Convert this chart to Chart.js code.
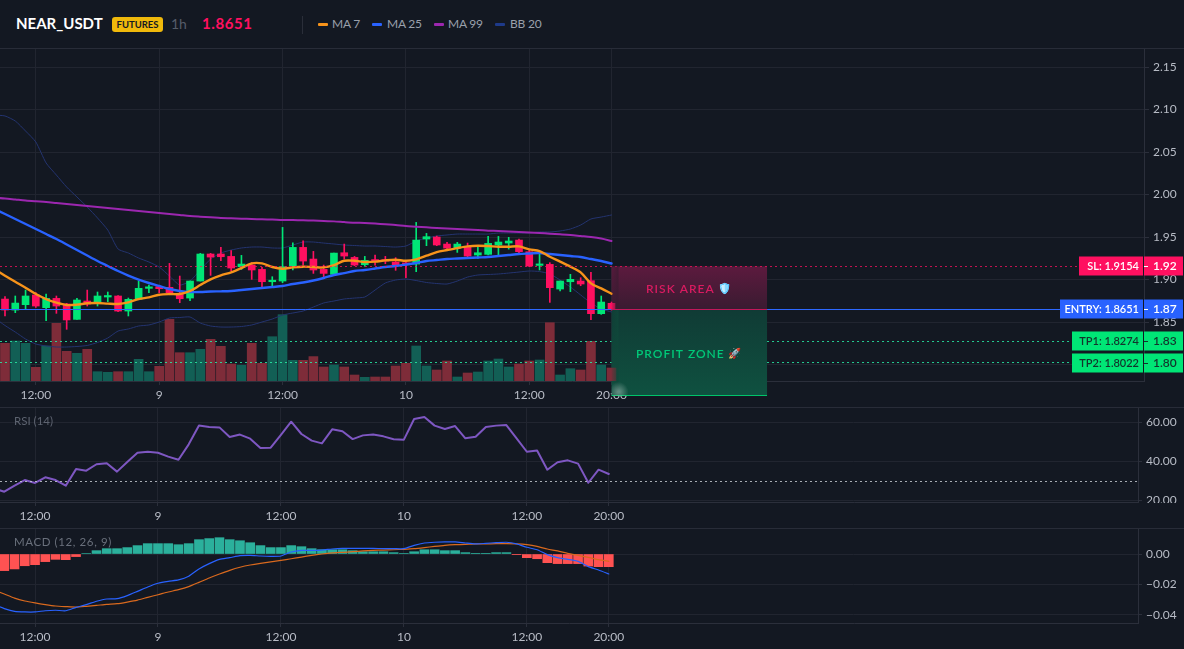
<!DOCTYPE html>
<html>
<head>
<meta charset="utf-8">
<title>NEAR_USDT</title>
<script src="https://cdn.jsdelivr.net/npm/chart.js@4"></script>
<style>
  html, body { margin: 0; padding: 0; background: #131822; overflow: hidden; }
  body { width: 1184px; height: 649px; position: relative; font-family: Lato, "Noto Sans", sans-serif; }
  canvas { position: absolute; left: 0; display: block; }
  .t { position: absolute; white-space: nowrap; line-height: 1; }
  .leg { top: 18px; font-size: 12px; letter-spacing: -.2px; color: #9aa0ac; }
  .rule { position: absolute; left: 0; width: 1184px; height: 1px; background: #282c38; }
  .sw { position: absolute; top: 23px; width: 10px; height: 3px; border-radius: 1px; }
</style>
</head>
<body>
<div class="t" style="left:16px;top:16px;font-size:15px;font-weight:700;color:#fff">NEAR_USDT</div>
<div class="t" style="left:112px;top:17px;width:51px;height:15px;line-height:15px;background:#f0b90b;border-radius:3px;color:#131822;font-size:9.5px;font-weight:700;text-align:center">FUTURES</div>
<div class="t" style="left:171px;top:17px;font-size:14px;color:#565c69">1h</div>
<div class="t" style="left:202px;top:16px;font-size:15px;font-weight:700;letter-spacing:.6px;color:#ff1060">1.8651</div>
<div style="position:absolute;left:302px;top:16px;width:1px;height:18px;background:#2a2e39"></div>
<div class="sw" style="left:318px;background:#f7931a"></div><div class="t leg" style="left:332px">MA 7</div>
<div class="sw" style="left:372px;background:#2962ff"></div><div class="t leg" style="left:387px">MA 25</div>
<div class="sw" style="left:434px;background:#9c27b0"></div><div class="t leg" style="left:448px">MA 99</div>
<div class="sw" style="left:495px;background:#1e3a8a"></div><div class="t leg" style="left:510px">BB 20</div>

<div class="rule" style="top:48px"></div>
<div class="rule" style="top:407px"></div>
<div class="rule" style="top:528px"></div>

<canvas id="main" width="1184" height="358" style="top:49px"></canvas>
<canvas id="rsi" width="1184" height="120" style="top:408px"></canvas>
<canvas id="macd" width="1184" height="120" style="top:529px"></canvas>

<div class="t" style="left:14px;top:415px;font-size:11.5px;color:#5d6370">RSI (14)</div>
<div class="t" style="left:14px;top:536px;font-size:11.5px;letter-spacing:.6px;color:#6a707c">MACD (12, 26, 9)</div>

<script>
// NEAR/USDT hourly candles, 8 Nov 09:00 to 10 Nov 20:00
const opens = [1.8770,1.8641,1.8704,1.8818,1.8669,1.8778,1.8712,1.8531,1.8747,1.8720,1.8794,1.8806,1.8629,1.8767,1.8896,1.8916,1.8908,1.8829,1.8782,1.8982,1.9300,1.9300,1.9272,1.9151,1.9170,1.9119,1.8974,1.8982,1.9159,1.9378,1.9241,1.9119,1.9061,1.9315,1.9260,1.9174,1.9233,1.9225,1.9206,1.9190,1.9182,1.9476,1.9500,1.9417,1.9370,1.9382,1.9288,1.9296,1.9406,1.9429,1.9464,1.9327,1.9166,1.9178,1.8888,1.8974,1.8982,1.8986,1.8598,1.8720];
const highs = [1.8798,1.8806,1.8876,1.8845,1.8829,1.8806,1.8720,1.8778,1.8876,1.8853,1.8853,1.8810,1.8782,1.8982,1.8935,1.8923,1.9190,1.9041,1.8982,1.9308,1.9308,1.9378,1.9339,1.9284,1.9198,1.9143,1.9033,1.9613,1.9433,1.9456,1.9331,1.9170,1.9311,1.9417,1.9272,1.9272,1.9288,1.9272,1.9257,1.9210,1.9672,1.9543,1.9511,1.9437,1.9437,1.9429,1.9382,1.9507,1.9507,1.9496,1.9476,1.9347,1.9296,1.9198,1.8982,1.9061,1.9021,1.9084,1.8806,1.8735];
const lows = [1.8571,1.8610,1.8649,1.8672,1.8516,1.8602,1.8414,1.8531,1.8688,1.8688,1.8739,1.8622,1.8571,1.8767,1.8845,1.8845,1.8821,1.8727,1.8751,1.8982,1.9049,1.9221,1.9104,1.9119,1.9002,1.8916,1.8908,1.8963,1.9112,1.9170,1.9072,1.9029,1.9045,1.9241,1.9162,1.9155,1.9170,1.9186,1.9108,1.9021,1.9092,1.9398,1.9398,1.9351,1.9319,1.9257,1.9249,1.9288,1.9280,1.9358,1.9308,1.9151,1.9112,1.8731,1.8865,1.8857,1.8927,1.8527,1.8590,1.8640];
const closes = [1.8641,1.8723,1.8806,1.8688,1.8778,1.8688,1.8524,1.8759,1.8712,1.8806,1.8802,1.8629,1.8767,1.8896,1.8908,1.8892,1.8845,1.8774,1.8982,1.9300,1.9264,1.9268,1.9135,1.9182,1.9112,1.8974,1.8986,1.9151,1.9378,1.9217,1.9112,1.9072,1.9311,1.9276,1.9170,1.9225,1.9217,1.9217,1.9174,1.9178,1.9464,1.9504,1.9406,1.9370,1.9417,1.9276,1.9315,1.9425,1.9441,1.9453,1.9327,1.9159,1.9178,1.8904,1.8982,1.9002,1.8947,1.8598,1.8735,1.8651];
const volumes = [37.7,40,37.7,13.7,35,57.7,29.7,27.7,31.7,9.3,8.7,9.3,9.3,21.7,9.3,14.7,61.7,28.3,28.3,31.7,41.7,34.7,17,15.7,37.7,17.7,44.3,66.3,20.7,20.7,24.4,14,16,14,6,3.7,4,4,15,17.7,35,15,11,20,4,8,9,20,22,14,17,20,21,58.3,6,12.3,11,39.7,16,13];

// Indicator series start one hour earlier so their lines run off the left edge
const ma7 = [1.9118,1.9045,1.8974,1.8904,1.8829,1.8770,1.8727,1.8700,1.8704,1.8720,1.8723,1.8716,1.8712,1.8731,1.8770,1.8790,1.8821,1.8829,1.8829,1.8865,1.8935,1.9002,1.9049,1.9084,1.9135,1.9190,1.9190,1.9147,1.9127,1.9143,1.9151,1.9147,1.9143,1.9170,1.9221,1.9221,1.9206,1.9210,1.9225,1.9233,1.9221,1.9237,1.9280,1.9323,1.9347,1.9370,1.9390,1.9398,1.9394,1.9386,1.9386,1.9390,1.9355,1.9335,1.9268,1.9210,1.9151,1.9084,1.8955,1.8896,1.8833];
const ma25 = [1.9829,1.9771,1.9712,1.9653,1.9594,1.9535,1.9476,1.9412,1.9347,1.9282,1.9218,1.9159,1.9100,1.9047,1.9000,1.8959,1.8924,1.8888,1.8865,1.8853,1.8853,1.8859,1.8861,1.8865,1.8876,1.8888,1.8900,1.8912,1.8924,1.8947,1.8965,1.8988,1.9018,1.9053,1.9076,1.9100,1.9112,1.9129,1.9147,1.9159,1.9176,1.9194,1.9218,1.9229,1.9241,1.9247,1.9253,1.9259,1.9265,1.9276,1.9288,1.9300,1.9306,1.9312,1.9300,1.9288,1.9276,1.9265,1.9241,1.9218,1.9188];
const ma99 = [1.9962,1.9953,1.9941,1.9929,1.9920,1.9912,1.9900,1.9888,1.9876,1.9865,1.9853,1.9841,1.9829,1.9818,1.9806,1.9794,1.9782,1.9771,1.9759,1.9747,1.9739,1.9732,1.9724,1.9720,1.9716,1.9712,1.9708,1.9705,1.9700,1.9699,1.9696,1.9693,1.9688,1.9684,1.9676,1.9669,1.9665,1.9658,1.9649,1.9641,1.9629,1.9622,1.9614,1.9606,1.9600,1.9594,1.9587,1.9582,1.9575,1.9571,1.9565,1.9559,1.9553,1.9547,1.9539,1.9532,1.9524,1.9512,1.9500,1.9482,1.9453];
const bbUpper = [2.0935,2.0924,2.0865,2.0747,2.0618,2.0371,2.0229,2.0088,1.9971,1.9853,1.9724,1.9582,1.9359,1.9312,1.9253,1.9206,1.9147,1.9041,1.8935,1.8982,1.9112,1.9241,1.9312,1.9347,1.9371,1.9382,1.9382,1.9371,1.9371,1.9406,1.9441,1.9441,1.9429,1.9418,1.9406,1.9400,1.9394,1.9394,1.9388,1.9382,1.9394,1.9453,1.9488,1.9512,1.9524,1.9535,1.9535,1.9535,1.9535,1.9547,1.9547,1.9547,1.9547,1.9559,1.9559,1.9571,1.9594,1.9641,1.9712,1.9735,1.9759];
const bbLower = [1.8547,1.8459,1.8382,1.8300,1.8241,1.8218,1.8206,1.8206,1.8212,1.8224,1.8259,1.8312,1.8394,1.8418,1.8453,1.8465,1.8500,1.8547,1.8553,1.8559,1.8488,1.8453,1.8441,1.8441,1.8447,1.8465,1.8500,1.8535,1.8582,1.8606,1.8629,1.8676,1.8724,1.8747,1.8771,1.8782,1.8794,1.8876,1.8959,1.8994,1.9006,1.8988,1.8965,1.8953,1.8947,1.8982,1.9029,1.9053,1.9059,1.9065,1.9076,1.9088,1.9100,1.9094,1.9065,1.8994,1.8912,1.8818,1.8724,1.8653,1.8618];

const rsi14 = [26.2,24.5,27.6,30.5,29.0,31.9,30.5,27.6,36.1,35.3,38.6,39.1,34.8,39.7,44.5,45.0,44.5,42.5,40.9,48.8,58.5,57.7,57.5,52.6,53.8,51.7,46.9,47.1,53.6,60.4,54.1,50.7,49.3,56.5,55.5,51.5,53.4,53.8,52.9,51.4,51.2,61.8,62.8,58.4,56.7,58.2,51.9,52.7,57.7,58.4,58.7,51.9,45.0,45.6,35.8,39.6,40.6,38.9,29.1,35.8,33.6];

const macdLine = [-.0332,-.0358,-.0376,-.0380,-.0380,-.0372,-.0369,-.0372,-.0350,-.0332,-.0310,-.0295,-.0293,-.0273,-.0245,-.0216,-.0192,-.0179,-.0170,-.0146,-.0098,-.0063,-.0035,-.0024,-.0011,-.0009,-.0013,-.0015,-.0013,.0013,.0024,.0024,.0026,.0033,.0037,.0037,.0037,.0037,.0035,.0035,.0035,.0057,.0072,.0077,.0079,.0079,.0072,.0066,.0070,.0074,.0077,.0066,.0044,.0028,-.0004,-.0024,-.0035,-.0048,-.0083,-.0105,-.0131];
const macdSignal = [-.0236,-.0262,-.0289,-.0308,-.0321,-.0332,-.0341,-.0345,-.0348,-.0343,-.0337,-.0330,-.0326,-.0315,-.0302,-.0284,-.0267,-.0249,-.0234,-.0214,-.0186,-.0157,-.0131,-.0107,-.0087,-.0072,-.0061,-.0052,-.0042,-.0031,-.0020,-.0009,0,.0007,.0011,.0015,.0020,.0024,.0026,.0028,.0031,.0035,.0042,.0050,.0057,.0061,.0063,.0066,.0066,.0068,.0068,.0066,.0061,.0050,.0033,.0020,.0004,-.0009,-.0022,-.0037,-.0048];
const macdHist = [-.0109,-.0098,-.0077,-.0070,-.0050,-.0035,-.0037,-.0017,.0003,.0022,.0035,.0035,.0042,.0055,.0068,.0068,.0068,.0061,.0068,.0094,.0101,.0107,.0094,.0087,.0074,.0055,.0042,.0042,.0055,.0048,.0035,.0028,.0028,.0028,.0022,.0015,.0015,.0015,.0009,.0004,.0015,.0028,.0028,.0022,.0022,.0009,.0002,.0002,.0009,.0009,-.0002,-.0024,-.0031,-.0057,-.0063,-.0063,-.0063,-.0079,-.0083,-.0083];

// Time axis: candle index and the label shown for it
const timeTicks = [3,15,27,39,51,59];
const timeLabels = ['12:00','9','12:00','10','12:00','20:00'];

const priceTicks = [1.80,1.85,1.90,1.95,2.00,2.05,2.10,2.15];
const rsiTicks = [20,40,60];
const macdTicks = [-.04,-.02,0];

// Trade levels
const entryPrice = 1.8651, slPrice = 1.9154, tp1Price = 1.8274, tp2Price = 1.8022;
const zoneFloorPrice = 1.7631, zoneEndIndex = 74.13;

const BG = '#131822', GRID = '#212530', BORDER = '#2b2f3b', TICK = '#b8bcc6';
const GREEN = '#00e676', RED = '#ff1060';
const FONT = 'Lato, "Noto Sans", sans-serif';

Chart.defaults.font.family = FONT;
const isUp = closes.map((c, i) => c >= opens[i]);
const pts = (a, start = 0) => a.map((y, i) => ({x: i + start, y}));
const candleColors = isUp.map(u => u ? GREEN : RED);

function noPadding(s) { s.paddingTop = s.paddingBottom = s.paddingLeft = s.paddingRight = 0; }

function timeAxis(min, max, height) {
  return {
    type: 'linear', min, max, position: 'bottom', offset: false,
    afterBuildTicks: s => { s.ticks = timeTicks.map(value => ({value})); },
    afterFit: s => { s.height = height; noPadding(s); },
    grid: {color: GRID, tickLength: 4, tickColor: BORDER, offset: false},
    border: {color: BORDER},
    ticks: {
      color: TICK, font: {size: 12}, padding: 3, maxRotation: 0, autoSkip: false, includeBounds: false,
      callback: v => timeLabels[timeTicks.indexOf(v)] ?? ''
    }
  };
}
function valueAxis(min, max, values, width, digits, pad) {
  return {
    type: 'linear', min, max, position: 'right',
    afterBuildTicks: s => { s.ticks = values.map(value => ({value})); },
    afterFit: s => { s.width = width; noPadding(s); },
    grid: {color: GRID, tickLength: pad, tickColor: BORDER},
    border: {color: BORDER},
    ticks: {
      color: TICK, font: {size: 12}, padding: 4, autoSkip: false, includeBounds: false,
      callback: v => Number(v).toFixed(digits).replace('-', '\u2212')
    }
  };
}
const base = {
  responsive: false, animation: false, devicePixelRatio: 1,
  layout: {autoPadding: false, padding: 0},
  plugins: {legend: {display: false}, tooltip: {enabled: false}}
};
function line(data, color, width, order, yAxisID, tension) {
  return {type: 'line', data: pts(data, -1), borderColor: color, borderWidth: width, pointRadius: 0, order, yAxisID, tension, fill: false, borderJoinStyle: 'round', borderCapStyle: 'round'};
}

// Risk and profit boxes, level lines and price tags on the candle panel
const tradeOverlay = {
  id: 'tradeOverlay',
  beforeDatasetsDraw(c) {
    const {ctx, scales: {x, y}} = c;
    const l = x.getPixelForValue(59), r = x.getPixelForValue(zoneEndIndex);
    const top = y.getPixelForValue(slPrice), mid = y.getPixelForValue(entryPrice), bot = y.getPixelForValue(zoneFloorPrice);
    ctx.save();
    let g = ctx.createLinearGradient(0, top, 0, mid);
    g.addColorStop(0, '#5c1a3e'); g.addColorStop(1, '#3a1b31');
    ctx.fillStyle = g; ctx.fillRect(l, top, r - l, mid - top);
    g = ctx.createLinearGradient(0, mid, 0, bot);
    g.addColorStop(0, '#103b35'); g.addColorStop(1, '#0f5140');
    ctx.fillStyle = g; ctx.fillRect(l, mid, r - l, bot - mid);
    ctx.restore();
  },
  afterDatasetsDraw(c) {
    const {ctx, scales: {x, y}} = c;
    const l = x.getPixelForValue(59), r = x.getPixelForValue(zoneEndIndex);
    const top = y.getPixelForValue(slPrice), mid = y.getPixelForValue(entryPrice), bot = y.getPixelForValue(zoneFloorPrice);
    const rows = [[slPrice, 'rgba(255,16,96,.75)', [2,3], 1079], [entryPrice, '#2d68ff', [], 1060], [tp1Price, 'rgba(40,235,165,.85)', [2,3], 1072], [tp2Price, 'rgba(40,235,165,.85)', [2,3], 1072]];
    ctx.save();
    ctx.lineWidth = 1;
    for (const [p, col, dash, end] of rows) {
      const py = Math.floor(y.getPixelForValue(p)) + .5;
      ctx.strokeStyle = col; ctx.setLineDash(dash);
      ctx.beginPath(); ctx.moveTo(0, py);
      if (p < slPrice) { ctx.lineTo(l, py); ctx.moveTo(r, py); }
      ctx.lineTo(end, py); ctx.stroke();
    }
    ctx.setLineDash([]);
    // Soft inner edge where the last candle and volume bar sit under the box
    let g = ctx.createLinearGradient(l, 0, l + 7, 0);
    g.addColorStop(0, 'rgba(58,27,49,.1)'); g.addColorStop(1, 'rgba(58,27,49,.75)');
    ctx.fillStyle = g; ctx.fillRect(l, top, 7, mid - top);
    g = ctx.createLinearGradient(l, 0, l + 7, 0);
    g.addColorStop(0, 'rgba(15,72,58,.1)'); g.addColorStop(1, 'rgba(15,72,58,.8)');
    ctx.fillStyle = g; ctx.fillRect(l, mid, 7, bot - mid);
    // Edge strokes of the boxes
    ctx.fillStyle = '#c2185b'; ctx.fillRect(l, Math.round(mid), r - l, 1);
    ctx.fillStyle = '#00c46a'; ctx.fillRect(l, Math.round(bot) - 1, r - l, 1);
    g = ctx.createRadialGradient(l + 7, bot - 4, 1, l + 7, bot - 4, 10);
    g.addColorStop(0, 'rgba(190,210,205,.45)'); g.addColorStop(1, 'rgba(190,210,205,0)');
    ctx.fillStyle = g; ctx.fillRect(l, bot - 14, 20, 14);
    // Box captions
    ctx.textBaseline = 'middle'; ctx.textAlign = 'left';
    ctx.font = `600 12px ${FONT}`;
    ctx.letterSpacing = '1px';
    ctx.fillStyle = '#d81b60';
    ctx.fillText('RISK AREA', 646, y.getPixelForValue(1.8884));
    ctx.fillStyle = '#00c878';
    ctx.fillText('PROFIT ZONE', 636, y.getPixelForValue(1.8119));
    ctx.letterSpacing = '0px';
    ctx.font = `10.5px "Noto Color Emoji", ${FONT}`;
    ctx.fillStyle = '#64a8f0';
    ctx.save();
    ctx.filter = 'sepia(1) saturate(4) hue-rotate(170deg)';
    ctx.fillText('\u{1F6E1}\uFE0F', 718, y.getPixelForValue(1.8884));
    ctx.restore();
    ctx.fillStyle = '#f0a0b0';
    ctx.fillText('\u{1F680}', 728, y.getPixelForValue(1.8119));
    ctx.restore();
  },
  afterDraw(c) {
    const {ctx, scales: {y}} = c;
    const tags = [
      [slPrice, 'SL: 1.9154', '1.92', RED, '#fff', 1079],
      [entryPrice, 'ENTRY: 1.8651', '1.87', '#2962ff', '#fff', 1060],
      [tp1Price, 'TP1: 1.8274', '1.83', GREEN, '#12352c', 1072],
      [tp2Price, 'TP2: 1.8022', '1.80', GREEN, '#12352c', 1072]
    ];
    ctx.save();
    ctx.textBaseline = 'middle';
    for (const [p, text, short, bg, fg, left] of tags) {
      const py = Math.round(y.getPixelForValue(p));
      ctx.fillStyle = bg;
      ctx.fillRect(left, py - 9.5, 1143 - left, 19);
      ctx.fillRect(1144, py - 9.5, 39, 19);
      ctx.fillStyle = fg;
      ctx.font = `600 11px ${FONT}`;
      ctx.textAlign = 'right';
      ctx.fillText(text, 1139, py + .5);
      ctx.textAlign = 'left';
      ctx.font = `600 12px ${FONT}`;
      ctx.fillText(short, 1153, py + .5);
      ctx.fillRect(1144, py, 4, 1);
    }
    ctx.restore();
  }
};

new Chart(document.getElementById('main'), {
  type: 'bar',
  data: {datasets: [
    line(ma7, '#f7931a', 2.4, 1, 'y', .3),
    line(ma25, '#2962ff', 2.4, 2, 'y', .3),
    line(ma99, '#9c27b0', 2, 3, 'y', .3),
    {type: 'bar', data: pts(opens.map((o, i) => [o, closes[i]])), backgroundColor: candleColors, barThickness: 7, grouped: false, minBarLength: 1.5, order: 5, yAxisID: 'y'},
    {type: 'bar', data: pts(lows.map((v, i) => [v, highs[i]])), backgroundColor: candleColors, barThickness: 1, grouped: false, order: 6, yAxisID: 'y'},
    line(bbUpper, '#243470', 1, 7, 'y', .2),
    line(bbLower, '#243470', 1, 7, 'y', .2),
    {type: 'bar', data: pts(volumes), backgroundColor: isUp.map(u => u ? '#125f55' : '#7e2c39'), barThickness: 9, grouped: false, order: 9, yAxisID: 'vol'}
  ]},
  options: {...base, scales: {
    x: timeAxis(-.486, 110.8, 26),
    y: valueAxis(1.7806, 2.1712, priceTicks, 40, 2, 5),
    vol: {type: 'linear', display: false, min: 0, max: 332, position: 'left'}
  }},
  plugins: [tradeOverlay]
});

// Oversold level on the RSI panel; the lowest tick label stops at the panel edge
const rsiOverlay = {
  id: 'rsiOverlay',
  afterDatasetsDraw(c) {
    const {ctx, chartArea: a, scales: {y}} = c;
    const py = Math.round(y.getPixelForValue(30)) + .5;
    ctx.save();
    ctx.strokeStyle = 'rgba(205,210,218,.8)'; ctx.lineWidth = 1; ctx.setLineDash([2, 3]);
    ctx.beginPath(); ctx.moveTo(a.left, py); ctx.lineTo(a.right, py); ctx.stroke();
    ctx.restore();
  },
  afterDraw(c) {
    const {ctx, chartArea: a} = c;
    ctx.fillStyle = BG;
    ctx.fillRect(a.right + 1, a.bottom + 1, c.width, c.height);
  }
};

new Chart(document.getElementById('rsi'), {
  type: 'line',
  data: {datasets: [line(rsi14, '#7e57c2', 2, 1, 'y', 0)]},
  options: {...base, scales: {
    x: timeAxis(-.42, 110.65, 26),
    y: valueAxis(19.23, 67.44, rsiTicks, 46, 2, 4)
  }},
  plugins: [rsiOverlay]
});

new Chart(document.getElementById('macd'), {
  type: 'bar',
  data: {datasets: [
    line(macdLine, '#2962ff', 1.2, 1, 'y', .2),
    line(macdSignal, '#d9691e', 1.2, 2, 'y', .2),
    {type: 'bar', data: pts(macdHist), backgroundColor: macdHist.map(v => v >= 0 ? '#2bb09c' : '#ff5252'), barThickness: 9, grouped: false, order: 3, yAxisID: 'y'}
  ]},
  options: {...base, scales: {
    x: timeAxis(-.42, 110.65, 26),
    y: valueAxis(-.04525, .0164, macdTicks, 46, 2, 4)
  }}
});
</script>
</body>
</html>
